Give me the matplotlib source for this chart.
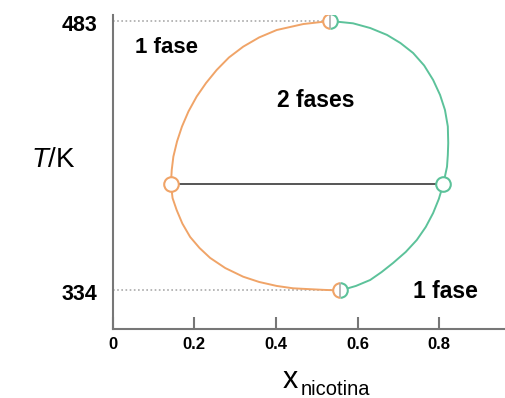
import matplotlib.pyplot as plt
from matplotlib.path import Path

plt.rcParams['font.family'] = ['Liberation Sans', 'DejaVu Sans']
plt.rcParams['mathtext.fontset'] = 'custom'
plt.rcParams['mathtext.rm'] = 'Liberation Sans'
plt.rcParams['mathtext.it'] = 'Liberation Sans:italic'

# data (orange branch: left side, green branch: right side)
x_org = [0.533, 0.467, 0.402, 0.359, 0.320, 0.285, 0.255, 0.229, 0.206,
         0.186, 0.170, 0.158, 0.149, 0.145, 0.143,
         0.147, 0.157, 0.171, 0.190, 0.213, 0.239, 0.276, 0.320, 0.359,
         0.402, 0.442, 0.484, 0.520, 0.558]
T_org = [483.0, 481.3, 478.0, 473.9, 468.8, 462.8, 455.9, 448.7, 441.2,
         433.0, 424.6, 416.4, 408.0, 400.6, 392.9,
         385.1, 378.5, 371.0, 363.6, 357.5, 352.0, 346.4, 341.6, 338.7,
         336.5, 335.2, 334.7, 334.3, 334.0]

x_grn = [0.533, 0.589, 0.631, 0.672, 0.705, 0.736, 0.763, 0.785, 0.802,
         0.814, 0.821, 0.822, 0.821, 0.819, 0.810,
         0.799, 0.785, 0.767, 0.745, 0.718, 0.687, 0.659, 0.631, 0.596, 0.558]
T_grn = [483.0, 481.7, 479.1, 475.3, 470.8, 465.3, 458.4, 450.4, 442.1,
         433.8, 424.7, 415.5, 408.9, 402.4, 392.9,
         384.6, 376.8, 369.1, 361.9, 355.3, 349.2, 344.2, 339.8, 336.5, 334.0]

tie_x = [0.143, 0.810]
tie_T = [392.9, 392.9]

crit_x = [0.533, 0.558]
crit_T = [483, 334]

xticks = [0, 0.2, 0.4, 0.6, 0.8]
yticks = [334, 483]

orange = '#f0a468'
green = '#5cc29a'

fig = plt.figure(figsize=(5.05, 3.98), dpi=100)
ax = fig.add_axes([0.2228, 0.1734, 0.7772, 0.7889])

# dotted guides to the critical points
for xc, Tc in zip(crit_x, crit_T):
    ax.plot([0, xc], [Tc, Tc], color='#aaaaaa', ls=(0, (1, 1.5)), lw=1.2, zorder=1)

ax.plot(x_org, T_org, color=orange, lw=1.4, zorder=2)
ax.plot(x_grn, T_grn, color=green, lw=1.4, zorder=2)
ax.plot(tie_x, tie_T, color='#555555', lw=1.4, zorder=2)

ax.plot(tie_x[0], tie_T[0], 'o', ms=10.5, mfc='white', mec=orange, mew=1.5, zorder=3)
ax.plot(tie_x[1], tie_T[1], 'o', ms=10.5, mfc='white', mec=green, mew=1.5, zorder=3)

# half orange / half green circles
ax.plot(crit_x, crit_T, 'o', ms=10.5, mfc='white', mec='none', zorder=3)
ax.plot(crit_x, crit_T, ls='none', marker=Path.arc(90, 270), ms=10.5,
        mfc='none', mec=orange, mew=1.5, zorder=4)
ax.plot(crit_x, crit_T, ls='none', marker=Path.arc(-90, 90), ms=10.5,
        mfc='none', mec=green, mew=1.5, zorder=4)
ax.plot(crit_x, crit_T, ls='none', marker='|', ms=10.5, mec='#aaaaaa', mew=1.2, zorder=4)

ax.set_xlim(0, 0.961)
ax.set_ylim(312.7, 486.3)

ax.set_xticks(xticks)
ax.set_xticklabels(['0', '0.2', '0.4', '0.6', '0.8'], fontweight='bold', fontsize=12)
ax.tick_params(axis='x', direction='in', length=9, width=1.5, color='#777777', pad=6)
ax.set_yticks([])

# y labels sit a little below their guide lines
for yt in yticks:
    ax.annotate(str(yt), xy=(0, yt), xytext=(-11, -3), textcoords='offset points',
                ha='right', va='center', fontsize=15.5, fontweight='bold',
                annotation_clip=False)

for s in ['top', 'right']:
    ax.spines[s].set_visible(False)
for s in ['left', 'bottom']:
    ax.spines[s].set_color('#777777')
    ax.spines[s].set_linewidth(1.5)

ax.text(0.055, 468.6, '1 fase', fontsize=16, fontweight='bold', va='center')
ax.text(0.403, 439.3, '2 fases', fontsize=16.5, fontweight='bold', va='center')
ax.text(0.736, 333.7, '1 fase', fontsize=16.5, fontweight='bold', va='center')

fig.text(0.105, 0.598, r'$\mathit{T}$/K', fontsize=20, ha='center', va='center')
fig.text(0.5604, 0.025, 'x', fontsize=22, ha='left', va='baseline')
fig.text(0.596, 0.0075, 'nicotina', fontsize=14.5, ha='left', va='baseline')

fig.savefig('out.png', dpi=100)
